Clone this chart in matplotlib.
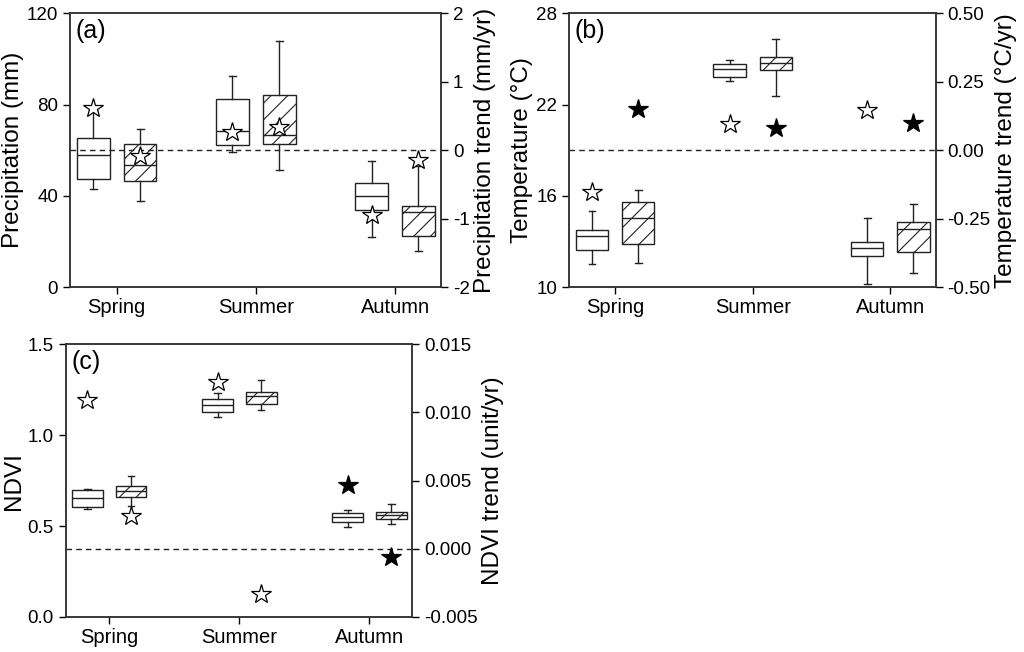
import numpy as np
import matplotlib
matplotlib.use("Agg")
import matplotlib.pyplot as plt

plt.rcParams['font.family'] = ['Liberation Sans', 'DejaVu Sans']
plt.rcParams['hatch.linewidth'] = 0.8

seasons = ["Spring", "Summer", "Autumn"]

# box stats per season: whisker low, q1, median, q3, whisker high
# open boxes = period 1, hatched boxes = period 2
prec_p1 = [[43.0, 47.5, 57.8, 65.2, 77.5],
           [59.0, 62.2, 68.3, 82.5, 92.4],
           [21.8, 33.6, 39.7, 45.6, 55.3]]
prec_p2 = [[37.6, 46.6, 53.7, 62.7, 69.2],
           [51.4, 62.9, 66.8, 84.0, 107.9],
           [16.0, 22.3, 32.8, 35.5, 53.0]]
prec_trend_p1 = [0.62, 0.26, -0.95]
prec_trend_p2 = [-0.08, 0.34, -0.15]
prec_sig_p1 = [False, False, False]
prec_sig_p2 = [False, False, False]

temp_p1 = [[11.50, 12.42, 13.36, 13.78, 14.99],
           [23.56, 23.80, 24.31, 24.66, 24.90],
           [10.22, 12.07, 12.55, 12.97, 14.55]]
temp_p2 = [[11.61, 12.84, 14.53, 15.60, 16.37],
           [22.57, 24.27, 24.73, 25.12, 26.31],
           [10.95, 12.29, 13.83, 14.27, 15.47]]
temp_trend_p1 = [-0.153, 0.096, 0.147]
temp_trend_p2 = [0.149, 0.080, 0.100]
temp_sig_p1 = [False, False, False]
temp_sig_p2 = [True, True, True]

ndvi_p1 = [[0.596, 0.605, 0.656, 0.697, 0.704],
           [1.102, 1.129, 1.168, 1.201, 1.234],
           [0.497, 0.524, 0.548, 0.572, 0.589]]
ndvi_p2 = [[0.612, 0.660, 0.695, 0.722, 0.774],
           [1.140, 1.173, 1.216, 1.236, 1.302],
           [0.510, 0.541, 0.561, 0.576, 0.620]]
ndvi_trend_p1 = [0.0109, 0.0122, 0.0047]
ndvi_trend_p2 = [0.0024, -0.0033, -0.0006]
ndvi_sig_p1 = [False, False, True]
ndvi_sig_p2 = [False, False, True]

LC = '#222222'
off = 0.168
bw = 0.235


def to_stats(rows):
    return [dict(whislo=r[0], q1=r[1], med=r[2], q3=r[3], whishi=r[4], fliers=[]) for r in rows]


def panel(rect, letter, p1, p2, tr1, tr2, sig1, sig2, ylim, yticks, ylab,
          rlim, rticks, rfmt, rlab):
    ax = fig.add_axes(rect)
    x = np.arange(1, len(seasons) + 1)
    props = dict(color=LC, linewidth=1.0)
    for rows, dx, hatch in [(p1, -off, None), (p2, off, '//')]:
        b = ax.bxp(to_stats(rows), positions=x + dx, widths=bw, capwidths=0.05,
                   patch_artist=True, showfliers=False,
                   boxprops=dict(facecolor='white', edgecolor=LC, linewidth=1.0),
                   medianprops=props, whiskerprops=props, capprops=props)
        for p in b['boxes']:
            if hatch:
                p.set_hatch(hatch)
    ax.set_xlim(0.665, 3.33)
    ax.set_ylim(*ylim)
    ax.set_yticks(yticks)
    ax.set_xticks(x)
    ax.set_xticklabels(seasons, fontsize=14.5)
    ax.tick_params(axis='y', labelsize=13.5, length=5, width=1, direction='out')
    ax.tick_params(axis='x', length=5, width=1, direction='out', pad=3)
    ax.set_ylabel(ylab, fontsize=17.5, labelpad=2)
    ax.text(0.016, 0.98, letter, transform=ax.transAxes, fontsize=18, va='top', ha='left')

    ax2 = ax.twinx()
    ax2.set_ylim(*rlim)
    ax2.set_yticks(rticks)
    ax2.set_yticklabels([rfmt.format(v) for v in rticks])
    ax2.tick_params(axis='y', labelsize=13.5, length=5, width=1, direction='out')
    ax2.set_ylabel(rlab, fontsize=17.5, labelpad=3)
    ax2.axhline(0, color=LC, linestyle=(0, (4, 3)), linewidth=1.0, zorder=1)
    for tr, sig, dx in [(tr1, sig1, -off), (tr2, sig2, off)]:
        for xi, t, s in zip(x, tr, sig):
            ax2.plot(xi + dx, t, marker='*', markersize=15,
                     markerfacecolor='black' if s else 'white',
                     markeredgecolor='black', markeredgewidth=0.9, zorder=5)
    for a in (ax, ax2):
        for sp in a.spines.values():
            sp.set_linewidth(1.1)
            sp.set_color('#333333')
    return ax


fig = plt.figure(figsize=(10.24, 6.52), dpi=100)

panel([0.0684, 0.5598, 0.3623, 0.4198], "(a)", prec_p1, prec_p2,
      prec_trend_p1, prec_trend_p2, prec_sig_p1, prec_sig_p2,
      (0, 120), [0, 40, 80, 120], "Precipitation (mm)",
      (-2, 2), [-2, -1, 0, 1, 2], "{:g}", "Precipitation trend (mm/yr)")

panel([0.5557, 0.5598, 0.3581, 0.4198], "(b)", temp_p1, temp_p2,
      temp_trend_p1, temp_trend_p2, temp_sig_p1, temp_sig_p2,
      (10, 28), [10, 16, 22, 28], "Temperature (°C)",
      (-0.5, 0.5), [-0.5, -0.25, 0, 0.25, 0.5], "{:.2f}", "Temperature trend (°C/yr)")

panel([0.0642, 0.0537, 0.3385, 0.4182], "(c)", ndvi_p1, ndvi_p2,
      ndvi_trend_p1, ndvi_trend_p2, ndvi_sig_p1, ndvi_sig_p2,
      (0, 1.5), [0, 0.5, 1.0, 1.5], "NDVI",
      (-0.005, 0.015), [-0.005, 0, 0.005, 0.01, 0.015], "{:.3f}", "NDVI trend (unit/yr)")

fig.savefig("out.png", dpi=100)
